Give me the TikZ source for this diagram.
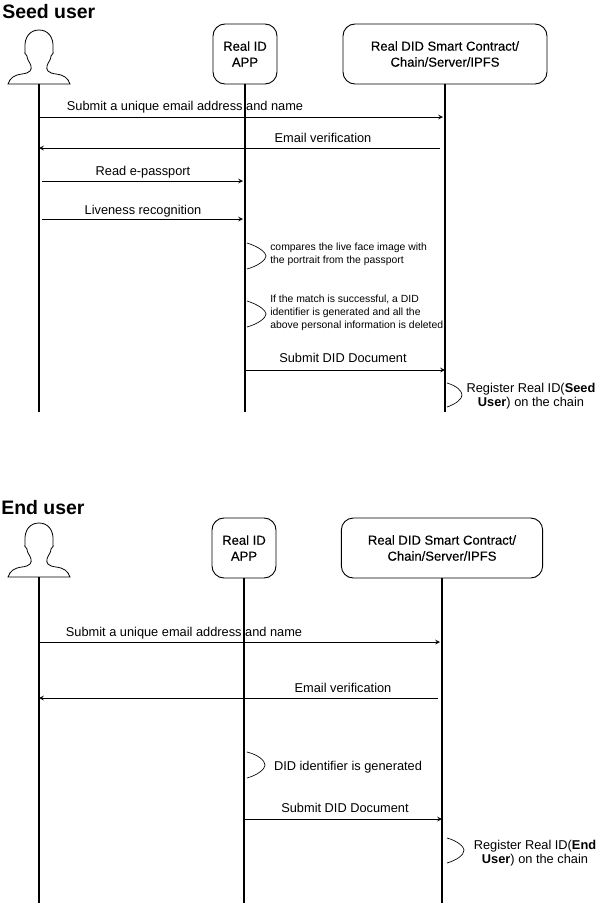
\documentclass[tikz,border=0pt]{standalone}
\usepackage{fontspec}
\setmainfont{Liberation Sans}
\newfontfamily\boxfont[FakeBold=0.25]{Liberation Sans}
\usepackage{tikz}
\usetikzlibrary{positioning,arrows.meta}

\tikzset{
  person/.pic={
    \draw[line width=0.6pt,fill=white] (-31,0) .. controls (-29,-6) and (-25,-9) .. (-17,-10)
      .. controls (-9,-11) and (-7,-14) .. (-8,-18)
      .. controls (-9,-22) and (-12,-24) .. (-12,-28)
      .. controls (-14,-29) and (-15,-32) .. (-14,-35)
      .. controls (-15,-47) and (-9,-54) .. (0,-54)
      .. controls (9,-54) and (15,-47) .. (14,-35)
      .. controls (15,-32) and (14,-29) .. (12,-28)
      .. controls (12,-24) and (9,-22) .. (8,-18)
      .. controls (7,-14) and (9,-11) .. (17,-10)
      .. controls (25,-9) and (29,-6) .. (31,0) -- cycle;
  }
}

\begin{document}
\begin{tikzpicture}[x=0.75pt,y=-0.75pt,>=stealth]

  \tikzstyle{actor}=[draw,rounded corners=9pt,line width=0.7pt,align=center,inner sep=0pt,font=\boxfont\fontsize{9.8}{12}\selectfont]
  \tikzstyle{lifeline}=[line width=1.4pt]
  \tikzstyle{message}=[->,line width=0.6pt]
  \tikzstyle{selfcall}=[line width=0.5pt]
  \tikzstyle{heading}=[anchor=west,inner sep=0pt,yshift=-0.7pt,font=\fontsize{14.6}{18}\selectfont\bfseries]
  \tikzstyle{msgtext}=[inner sep=0pt,align=center,yshift=-0.8pt,font=\fontsize{9.6}{10.5}\selectfont]
  \tikzstyle{note}=[inner sep=0pt,anchor=west,align=left,yshift=-0.8pt,font=\fontsize{7.8}{9.6}\selectfont]

  \useasboundingbox (0,0) rectangle (600,904);

  % Seed user
  \node[heading] (seedtitle) at (2,11) {Seed user};
  \coordinate (seedbase) at (39,84);
  \pic at (seedbase) {person};
  \node[actor,minimum width=48pt,minimum height=45pt] (seedapp) at (245,54) {Real ID\\APP};
  \node[actor,minimum width=153pt,minimum height=45pt] (seedchain) at (445,54) {Real DID Smart Contract/\\Chain/Server/IPFS};

  \coordinate (seedbaseend) at (39,412);
  \coordinate (seedappend) at (245,412);
  \coordinate (seedchainend) at (445,412);
  \draw[lifeline] (seedbase) -- (seedbaseend);
  \draw[lifeline] (seedapp.south) -- (seedappend);
  \draw[lifeline] (seedchain.south) -- (seedchainend);

  \coordinate (s1a) at (39,117);
  \coordinate (s1b) at (443,117);
  \coordinate (s2a) at (440,148);
  \coordinate (s2b) at (39,148);
  \coordinate (s3a) at (42,181);
  \coordinate (s3b) at (243,181);
  \coordinate (s4a) at (42,219);
  \coordinate (s4b) at (243,219);
  \coordinate (s5a) at (245,370);
  \coordinate (s5b) at (445,370);
  \draw[message] (s1a) -- (s1b);
  \draw[message] (s2a) -- (s2b);
  \draw[message] (s3a) -- (s3b);
  \draw[message] (s4a) -- (s4b);
  \draw[message] (s5a) -- (s5b);

  \node[msgtext] (s1text) at (185,106) {Submit a unique email address and name};
  \node[msgtext] (s2text) at (323,137) {Email verification};
  \node[msgtext] (s3text) at (143,171) {Read e-passport};
  \node[msgtext] (s4text) at (143,210) {Liveness recognition};
  \node[msgtext] (s5text) at (343,357) {Submit DID Document};

  \coordinate (s6a) at (247,243);
  \coordinate (s6b) at (247,269);
  \coordinate (s7a) at (247,301);
  \coordinate (s7b) at (247,327);
  \coordinate (s8a) at (447,383);
  \coordinate (s8b) at (447,407);
  \draw[selfcall] (s6a) .. controls (260,247) and (266,253) .. (266,256) .. controls (266,260) and (258,266) .. (s6b);
  \draw[selfcall] (s7a) .. controls (260,305) and (266,311) .. (266,314) .. controls (266,318) and (258,324) .. (s7b);
  \draw[selfcall] (s8a) .. controls (457,386) and (462,391) .. (462,395) .. controls (462,399) and (456,404) .. (s8b);

  \node[note] (s6text) at (270,253) {compares the live face image with\\the portrait from the passport};
  \node[note] (s7text) at (270,312) {If the match is successful, a DID\\identifier is generated and all the\\above personal information is deleted};
  \node[msgtext] (s8text) at (531,395) {Register Real ID(\textbf{Seed}\\\textbf{User}) on the chain};

  % End user
  \node[heading] (endtitle) at (1,507) {End user};
  \coordinate (endbase) at (39,577);
  \pic at (endbase) {person};
  \node[actor,minimum width=48pt,minimum height=45pt] (endapp) at (244,548) {Real ID\\APP};
  \node[actor,minimum width=151pt,minimum height=45pt] (endchain) at (442,548) {Real DID Smart Contract/\\Chain/Server/IPFS};

  \coordinate (endbaseend) at (39,903);
  \coordinate (endappend) at (244,903);
  \coordinate (endchainend) at (442,903);
  \draw[lifeline] (endbase) -- (endbaseend);
  \draw[lifeline] (endapp.south) -- (endappend);
  \draw[lifeline] (endchain.south) -- (endchainend);

  \coordinate (e1a) at (39,642);
  \coordinate (e1b) at (440,642);
  \coordinate (e2a) at (438,698);
  \coordinate (e2b) at (39,698);
  \coordinate (e3a) at (244,819);
  \coordinate (e3b) at (442,819);
  \draw[message] (e1a) -- (e1b);
  \draw[message] (e2a) -- (e2b);
  \draw[message] (e3a) -- (e3b);

  \node[msgtext] (e1text) at (184,632) {Submit a unique email address and name};
  \node[msgtext] (e2text) at (343,687) {Email verification};
  \node[msgtext] (e3text) at (345,807) {Submit DID Document};

  \coordinate (e4a) at (247,752);
  \coordinate (e4b) at (247,778);
  \coordinate (e5a) at (447,838);
  \coordinate (e5b) at (447,863);
  \draw[selfcall] (e4a) .. controls (259,755) and (265,761) .. (265,765) .. controls (265,769) and (258,775) .. (e4b);
  \draw[selfcall] (e5a) .. controls (458,841) and (464,847) .. (464,850) .. controls (464,855) and (457,860) .. (e5b);

  \node[msgtext] (e4text) at (348,766) {DID identifier is generated};
  \node[msgtext] (e5text) at (535,852) {Register Real ID(\textbf{End}\\\textbf{User}) on the chain};

\end{tikzpicture}
\end{document}
